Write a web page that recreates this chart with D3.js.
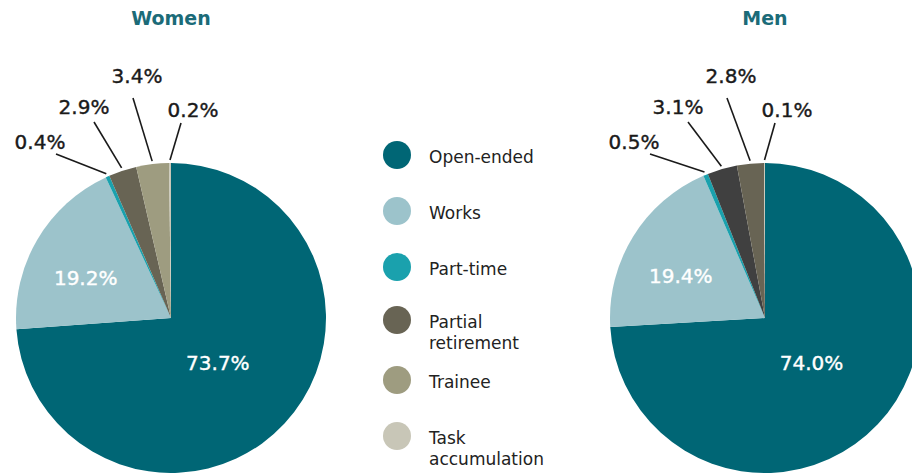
<!DOCTYPE html>
<html>
<head>
<meta charset="utf-8">
<script src="https://cdn.jsdelivr.net/npm/d3@7"></script>
<style>
  html, body { margin: 0; padding: 0; background: #ffffff; }
  svg { display: block; font-family: "DejaVu Sans", sans-serif; }
</style>
</head>
<body>
<svg id="chart" width="912" height="473"></svg>
<script>
// ---- data ----
const categories = ["Open-ended", "Works", "Part-time", "Partial retirement", "Trainee", "Task accumulation"];
const groups = ["Women", "Men"];
const womenValues = [73.7, 19.2, 0.4, 2.9, 3.4, 0.2];
const menValues = [74.0, 19.4, 0.5, 3.1, 2.8, 0.1];
const womenLabels = ["73.7%", "19.2%", "0.4%", "2.9%", "3.4%", "0.2%"];
const menLabels = ["74.0%", "19.4%", "0.5%", "3.1%", "2.8%", "0.1%"];

// ---- styles ----
const legendColors = ["#006675", "#9cc3cb", "#1aa1ad", "#686454", "#9e9c80", "#c8c6b7"];
const womenColors = ["#006675", "#9cc3cb", "#1aa1ad", "#686454", "#9e9c80", "#c8c6b7"];
const menColors = ["#006675", "#9cc3cb", "#1aa1ad", "#404040", "#686454", "#c8c6b7"];

const svg = d3.select("#chart");
const R = 155;
const pieGen = d3.pie().sort(null).value(d => d).startAngle(0).endAngle(2 * Math.PI);
const arcGen = d3.arc().innerRadius(0).outerRadius(R);

// layout slots for outer labels (relative to pie centre)
const lineEnds = [[-115, -164], [-77, -196], [-38, -220], [10, -195]];
const textPos = [[-131, -169], [-87, -204], [-34, -235], [22, -201]];
const innerR = [64, 99];
const innerDy = [8, 17];

const pies = [
  { name: groups[0], values: womenValues, labels: womenLabels, colors: womenColors, cx: 171, cy: 318 },
  { name: groups[1], values: menValues, labels: menLabels, colors: menColors, cx: 765, cy: 318 }
];

pies.forEach(p => {
  const g = svg.append("g").attr("transform", `translate(${p.cx},${p.cy})`);
  const arcs = pieGen(p.values);

  g.selectAll("path.slice").data(arcs).enter().append("path")
    .attr("class", "slice")
    .attr("d", arcGen)
    .attr("fill", (d, i) => p.colors[i]);

  // inner labels for the two big slices
  arcs.slice(0, 2).forEach((d, i) => {
    const a = (d.startAngle + d.endAngle) / 2;
    const r = innerR[i];
    g.append("text")
      .attr("x", r * Math.sin(a))
      .attr("y", -r * Math.cos(a) + innerDy[i])
      .attr("text-anchor", "middle")
      .attr("fill", "#ffffff")
      .attr("stroke", "#ffffff")
      .attr("stroke-width", 0.4)
      .attr("font-size", 20)
      .text(p.labels[i]);
  });

  // outer labels with leader lines for small slices
  arcs.slice(2).forEach((d, j) => {
    const i = j + 2;
    const a = (d.startAngle + d.endAngle) / 2;
    const rs = R + 3;
    g.append("line")
      .attr("x1", rs * Math.sin(a))
      .attr("y1", -rs * Math.cos(a))
      .attr("x2", lineEnds[j][0])
      .attr("y2", lineEnds[j][1])
      .attr("stroke", "#1a1a1a")
      .attr("stroke-width", 1.6);
    g.append("text")
      .attr("x", textPos[j][0])
      .attr("y", textPos[j][1])
      .attr("text-anchor", "middle")
      .attr("fill", "#1a1a1a")
      .attr("stroke", "#1a1a1a")
      .attr("stroke-width", 0.4)
      .attr("font-size", 20)
      .text(p.labels[i]);
  });

  svg.append("text")
    .attr("x", p.cx)
    .attr("y", 25)
    .attr("text-anchor", "middle")
    .attr("fill", "#1b6b78")
    .attr("font-size", 19)
    .attr("font-weight", "bold")
    .text(p.name);
});

// ---- legend ----
const legendY = [155, 211, 267, 320, 380, 436];
const legendLines = [["Open-ended"], ["Works"], ["Part-time"], ["Partial", "retirement"], ["Trainee"], ["Task", "accumulation"]];
const leg = svg.append("g");
categories.forEach((c, i) => {
  leg.append("circle")
    .attr("cx", 397)
    .attr("cy", legendY[i])
    .attr("r", 14)
    .attr("fill", legendColors[i]);
  const t = leg.append("text")
    .attr("x", 429)
    .attr("y", legendY[i] + 8)
    .attr("fill", "#222222")
    .attr("font-size", 17);
  legendLines[i].forEach((ln, k) => {
    t.append("tspan").attr("x", 429).attr("dy", k === 0 ? 0 : 21).text(ln);
  });
});
</script>
</body>
</html>
